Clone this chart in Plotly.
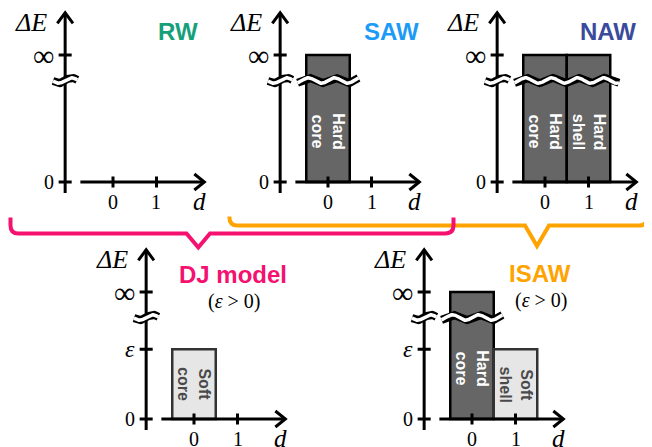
import numpy as np
import plotly.graph_objects as go

# page places the plot 8px from the window's top-left corner
OFF = 8
W, H = 652 - OFF, 447 - OFF

# ---- energy levels (schematic units) ----
INF = 3.0      # "infinity" level
EPS = 1.65     # epsilon level
BREAK = 2.4    # axis-break level

# ---- data ----
titles = ["RW", "SAW", "NAW", "DJ model", "ISAW"]
title_colors = ["#16A07A", "#1C9BF6", "#3A4A9C", "#F5116F", "#FFA300"]
conditions = ["", "", "", "(<i>ε</i> > 0)", "(<i>ε</i> > 0)"]

x_ticks = [0, 1]
x_tick_labels = ["0", "1"]
top_y_ticks = [0, INF]
top_y_labels = ["0", "∞"]
bottom_y_ticks = [0, EPS, INF]
bottom_y_labels = ["0", "<i>ε</i>", "∞"]

rw_d = []
rw_energy = []
rw_kind = []
rw_labels = []

saw_d = [0]
saw_energy = [INF]
saw_kind = ["hard"]
saw_labels = ["Hard<br>core"]

naw_d = [0, 1]
naw_energy = [INF, INF]
naw_kind = ["hard", "hard"]
naw_labels = ["Hard<br>core", "Hard<br>shell"]

dj_d = [0]
dj_energy = [EPS]
dj_kind = ["soft"]
dj_labels = ["Soft<br>core"]

isaw_d = [0, 1]
isaw_energy = [INF, EPS]
isaw_kind = ["hard", "soft"]
isaw_labels = ["Hard<br>core", "Soft<br>shell"]

panel_d = [rw_d, saw_d, naw_d, dj_d, isaw_d]
panel_energy = [rw_energy, saw_energy, naw_energy, dj_energy, isaw_energy]
panel_kind = [rw_kind, saw_kind, naw_kind, dj_kind, isaw_kind]
panel_labels = [rw_labels, saw_labels, naw_labels, dj_labels, isaw_labels]
panel_yticks = [top_y_ticks] * 3 + [bottom_y_ticks] * 2
panel_ylabels = [top_y_labels] * 3 + [bottom_y_labels] * 2

# ---- layout / style ----
origins = [(113, 182), (328, 182), (545, 182), (194, 419), (472, 419)]
UX, UY = 43.5, 42.3
XR = (-2.1, 2.4)
YR = (-0.65, 4.25)
title_pos = [(1.5, 3.55), (1.45, 3.55), (1.45, 3.55), (0.9, 3.42), (1.56, 3.45)]
cond_pos = [None, None, None, (0.94, 2.77), (1.6, 2.81)]

YAX = -1.1
XAX_START, XAX_END = -0.75, 2.1
YAX_BOTTOM, YAX_TOP = -0.26, 4.0
AX_W = 3
FILL = {"hard": "#666666", "soft": "#E6E6E6"}
EDGE = {"hard": "#000000", "soft": "#333333"}
TXT = {"hard": "#FFFFFF", "soft": "#4A4A4A"}

MATH = "Liberation Serif, DejaVu Serif, serif"
SANS = "Liberation Sans, Arial, sans-serif"

fig = go.Figure()
layout = dict(
    width=W, height=H, margin=dict(l=0, r=0, t=0, b=0),
    paper_bgcolor="white", plot_bgcolor="rgba(0,0,0,0)", showlegend=False,
    barmode="overlay",
)
annotations = []


def ax_names(i):
    s = "" if i == 0 else str(i + 1)
    return "x" + s, "y" + s, "xaxis" + s, "yaxis" + s


def add_line(xs, ys, i, color="black", width=AX_W):
    xr, yr, _, _ = ax_names(i)
    fig.add_trace(go.Scatter(x=xs, y=ys, mode="lines", xaxis=xr, yaxis=yr,
                             line=dict(color=color, width=width),
                             hoverinfo="skip", showlegend=False))


def add_break(x0, x1, xc, i):
    xs = np.linspace(x0, x1, 80)
    ys = BREAK + 0.065 * np.sin(2 * np.pi * (xs - xc) / 0.6)
    add_line(xs, ys, i, "black", 8)
    add_line(xs, ys, i, "white", 3.5)


for i in range(5):
    ox, oy = origins[i]
    ox -= OFF
    oy -= OFF
    xr, yr, xa, ya = ax_names(i)
    left = max(0.0, ox + XR[0] * UX)
    right = min(W, ox + XR[1] * UX)
    top = max(0.0, oy - YR[1] * UY)
    bottom = min(H, oy - YR[0] * UY)
    # domains in paper fractions, ranges keep the same px-per-unit scale
    layout[xa] = dict(domain=[left / W, right / W], visible=False, anchor=yr, fixedrange=True,
                      range=[(left - ox) / UX, (right - ox) / UX])
    layout[ya] = dict(domain=[1 - bottom / H, 1 - top / H], visible=False, anchor=xr,
                      fixedrange=True, range=[(oy - bottom) / UY, (oy - top) / UY])

    d = panel_d[i]
    en = panel_energy[i]
    kind = panel_kind[i]
    # bars
    if d:
        fig.add_trace(go.Bar(
            x=d, y=en, width=[1.0] * len(d), xaxis=xr, yaxis=yr,
            marker=dict(color=[FILL[k] for k in kind],
                        line=dict(color=[EDGE[k] for k in kind], width=2.5)),
            hoverinfo="skip", showlegend=False))

    # axes
    add_line([YAX, YAX], [YAX_BOTTOM, YAX_TOP], i)
    add_line([XAX_START, XAX_END], [0, 0], i)
    # arrow heads
    add_line([XAX_END - 0.23, XAX_END, XAX_END - 0.23], [0.19, 0, -0.19], i)
    add_line([YAX - 0.18, YAX, YAX + 0.18], [YAX_TOP - 0.25, YAX_TOP, YAX_TOP - 0.25], i)
    # ticks
    for t in x_ticks:
        add_line([t, t], [-0.13, 0.13], i)
    for t in panel_yticks[i]:
        add_line([YAX - 0.15, YAX + 0.15], [t, t], i)

    # breaks
    add_break(YAX - 0.28, YAX + 0.28, YAX, i)
    hard_d = [dd for dd, k in zip(d, kind) if k == "hard"]
    if hard_d:
        add_break(min(hard_d) - 0.7, max(hard_d) + 0.7, 0, i)

    # tick labels
    for t, lab in zip(x_ticks, x_tick_labels):
        annotations.append(dict(x=t, y=-0.48, xref=xr, yref=yr, text=lab, showarrow=False,
                                font=dict(family=MATH, size=20, color="black")))
    annotations.append(dict(x=1.98, y=-0.47, xref=xr, yref=yr, text="<i>d</i>", showarrow=False,
                            font=dict(family=MATH, size=25, color="black")))
    for t, lab in zip(panel_yticks[i], panel_ylabels[i]):
        sz = 30 if lab == "∞" else (24 if "ε" in lab else 20)
        annotations.append(dict(x=YAX - 0.22, y=t, xref=xr, yref=yr, text=lab, showarrow=False,
                                xanchor="right", font=dict(family=MATH, size=sz, color="black")))
    annotations.append(dict(x=-1.88, y=3.78, xref=xr, yref=yr, text="<i>ΔE</i>", showarrow=False,
                            font=dict(family=MATH, size=26, color="black")))

    # title
    tx, ty = title_pos[i]
    annotations.append(dict(x=tx, y=ty, xref=xr, yref=yr, text="<b>" + titles[i] + "</b>",
                            showarrow=False,
                            font=dict(family=SANS, size=24, color=title_colors[i])))
    if cond_pos[i]:
        cx, cy = cond_pos[i]
        annotations.append(dict(x=cx, y=cy, xref=xr, yref=yr, text=conditions[i],
                                showarrow=False,
                                font=dict(family=MATH, size=20, color="black")))

    # bar labels
    for dd, e, k, lab in zip(d, en, kind, panel_labels[i]):
        annotations.append(dict(x=dd, y=min(e, BREAK) / 2, xref=xr, yref=yr,
                                text="<b>" + lab + "</b>", textangle=90, showarrow=False,
                                font=dict(family=SANS, size=16, color=TXT[k])))


def P(x, y):
    return f"{(x - OFF) / W:.5f},{1 - (y - OFF) / H:.5f}"


orange_path = ("M " + P(229.5, 216.5) + " L " + P(229.5, 218) + " Q " + P(229.5, 225.5) + " " + P(237.5, 225.5)
               + " L " + P(525, 225.5) + " L " + P(537, 246) + " L " + P(549, 225.5)
               + " L " + P(639, 225.5) + " Q " + P(647, 225.5) + " " + P(647, 217.5) + " L " + P(647, 216.5))
pink_path = ("M " + P(10.5, 217.5) + " L " + P(10.5, 225.5) + " Q " + P(10.5, 233.5) + " " + P(18.5, 233.5)
             + " L " + P(186.5, 233.5) + " L " + P(198.3, 247.5) + " L " + P(210, 233.5)
             + " L " + P(445, 233.5) + " Q " + P(453.5, 233.5) + " " + P(453.5, 225) + " L " + P(453.5, 217.5))

layout["shapes"] = [
    dict(type="path", path=orange_path, xref="paper", yref="paper",
         line=dict(color="#FFA300", width=4)),
    dict(type="path", path=pink_path, xref="paper", yref="paper",
         line=dict(color="#F5116F", width=4)),
]
layout["annotations"] = annotations
fig.update_layout(**layout)
fig.write_html("out.html")
